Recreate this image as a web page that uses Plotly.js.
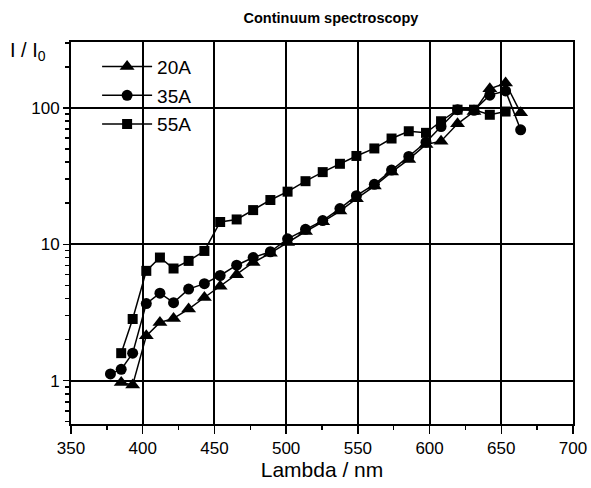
<!DOCTYPE html>
<html>
<head>
<meta charset="utf-8">
<script src="https://cdn.plot.ly/plotly-3.0.1.min.js"></script>
<style>html,body{margin:0;padding:0;background:#fff;}#chart{width:591px;height:488px;}</style>
</head>
<body>
<div id="chart"></div>
<script>
// Data
const lambda20 = [385, 393, 402.5, 412, 421.5, 432, 443, 454, 465.5, 477, 489, 501, 513.5, 525.5, 537.5, 549, 561.5, 573.5, 585.5, 597.5, 608, 619.5, 631, 642, 653, 663.5];
const i20 = [0.97, 0.93, 2.13, 2.67, 2.86, 3.35, 4.07, 4.93, 5.98, 7.35, 8.6, 10.3, 12.4, 14.6, 17.5, 21.6, 26.7, 33.8, 41.9, 53.9, 57.0, 76.4, 94, 138, 152, 92];

const lambda35 = [377.5, 385, 393, 402.5, 412, 421.5, 432, 443, 454, 465.5, 477, 489, 501, 513.5, 525.5, 537.5, 549, 561.5, 573.5, 585.5, 597.5, 608, 619.5, 631, 642, 653, 663.5];
const i35 = [1.12, 1.21, 1.59, 3.67, 4.38, 3.73, 4.69, 5.14, 5.9, 7.02, 7.99, 8.81, 10.97, 12.87, 14.91, 18.25, 22.7, 27.5, 35.0, 44.0, 56.0, 73.0, 97, 96, 124, 133, 69];

const lambda55 = [385, 393, 402.5, 412, 421.5, 432, 443, 454, 465.5, 477, 489, 501, 513.5, 525.5, 537.5, 549, 561.5, 573.5, 585.5, 597.5, 608, 619.5, 631, 642, 653];
const i55 = [1.59, 2.83, 6.38, 7.99, 6.64, 7.55, 8.93, 14.56, 15.2, 17.8, 21.1, 24.3, 29.0, 33.8, 38.9, 44.4, 50.4, 59.6, 67.4, 65.6, 79.8, 97, 97, 89, 94];

const seriesNames = ["20A", "35A", "55A"];
const yTickVals = [1, 10, 100];
const yTickText = ["1", "10", "100"];
const yMinorVals = [0.5,0.6,0.7,0.8,0.9,2,3,4,5,6,7,8,9,20,30,40,50,60,70,80,90,200,300];

const FONT = "Liberation Sans, Arial, Helvetica, sans-serif";

function mk(x, y, name, symbol, size) {
  return {
    x: x, y: y, name: name, type: 'scatter', mode: 'lines+markers',
    legendgroup: name,
    line: {color: '#000', width: 1.5},
    marker: {symbol: symbol, size: size, color: '#000'},
    hoverinfo: 'x+y'
  };
}

const data = [
  mk(lambda20, i20, seriesNames[0], 'triangle-up', 13),
  mk(lambda35, i35, seriesNames[1], 'circle', 11),
  mk(lambda55, i55, seriesNames[2], 'square', 10)
];

const layout = {
  width: 591, height: 488,
  margin: {l: 71, r: 18, t: 42, b: 64},
  paper_bgcolor: '#fff', plot_bgcolor: '#fff',
  font: {family: FONT, color: '#000', size: 17},
  title: {
    text: '<b>Continuum spectroscopy</b>',
    font: {family: FONT, size: 14.5, color: '#000'},
    x: 0.56, xanchor: 'center', y: 0.963, yanchor: 'middle', xref: 'container', yref: 'container'
  },
  showlegend: true,
  legend: {
    x: 0.052, xanchor: 'left', y: 0.985, yanchor: 'top',
    bgcolor: 'rgba(0,0,0,0)', borderwidth: 0,
    font: {family: FONT, size: 19, color: '#000'},
    tracegroupgap: 1, itemwidth: 50
  },
  xaxis: {
    range: [350, 700], dtick: 50, tick0: 350,
    showgrid: true, gridcolor: '#000', gridwidth: 2,
    showline: true, linecolor: '#000', linewidth: 2, mirror: true,
    ticks: 'outside', ticklen: 8, tickwidth: 1.5, tickcolor: '#000',
    minor: {dtick: 25, tick0: 350, ticks: 'outside', ticklen: 4, tickwidth: 1.5, tickcolor: '#000', showgrid: false},
    zeroline: false,
    tickfont: {size: 17, family: FONT},
    title: {text: 'Lambda / nm', font: {size: 21, family: FONT}, standoff: 5}
  },
  yaxis: {
    type: 'log', range: [-0.318, 2.483],
    tickmode: 'array', tickvals: yTickVals, ticktext: yTickText,
    showgrid: true, gridcolor: '#000', gridwidth: 2,
    showline: true, linecolor: '#000', linewidth: 2, mirror: true,
    ticks: 'outside', ticklen: 6, tickwidth: 1.5, tickcolor: '#000',
    minor: {tickmode: 'array', tickvals: yMinorVals, ticks: 'outside', ticklen: 4, tickwidth: 1.5, tickcolor: '#000', showgrid: false},
    zeroline: false,
    tickfont: {size: 17, family: FONT}
  },
  shapes: [{
    type: 'rect', xref: 'paper', yref: 'paper', layer: 'between',
    x0: 0.022, x1: 0.287, y0: 0.73, y1: 0.995,
    fillcolor: '#fff', line: {width: 0}
  }],
  annotations: [{
    text: 'I / I<sub>0</sub>', xref: 'paper', yref: 'paper',
    x: -0.125, xanchor: 'left', y: 0.975, yanchor: 'middle',
    showarrow: false, font: {size: 20, family: FONT, color: '#000'}
  }]
};

Plotly.newPlot('chart', data, layout, {displayModeBar: false, staticPlot: true});
</script>
</body>
</html>
